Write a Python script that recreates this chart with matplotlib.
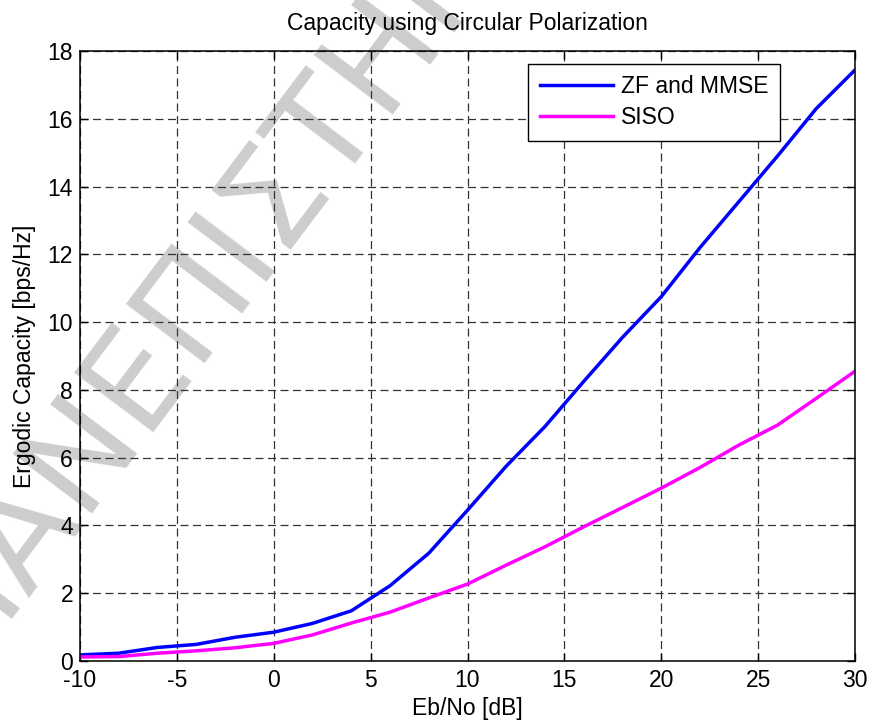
import numpy as np
import matplotlib.pyplot as plt

plt.rcParams['font.family'] = ['Liberation Sans', 'DejaVu Sans']
plt.rcParams['axes.unicode_minus'] = False

# Eb/No values [dB]
ebno_db = [-10, -8, -6, -4, -2, 0, 2, 4, 6, 8, 10, 12, 14, 16, 18, 20, 22, 24, 26, 28, 30]

# ergodic capacity [bps/Hz]
cap_zf_mmse = [0.18, 0.23, 0.40, 0.49, 0.70, 0.85, 1.11, 1.48, 2.22, 3.18, 4.45,
               5.75, 6.92, 8.25, 9.55, 10.75, 12.2, 13.55, 14.9, 16.3, 17.44]
cap_siso = [0.12, 0.13, 0.23, 0.30, 0.39, 0.52, 0.77, 1.12, 1.44, 1.86, 2.27,
            2.83, 3.37, 3.96, 4.53, 5.10, 5.71, 6.37, 6.96, 7.75, 8.55]

x_ticks = [-10, -5, 0, 5, 10, 15, 20, 25, 30]
y_ticks = [0, 2, 4, 6, 8, 10, 12, 14, 16, 18]

FS = 16.5

fig = plt.figure(figsize=(8.69, 7.21), dpi=100)
ax = fig.add_axes([80 / 869, 1 - 661 / 721, 775 / 869, 610 / 721])
ax.patch.set_alpha(0)

# watermark behind everything
fig.text(252 / 869, 1 - 222 / 721, "ΠΑΝΕΠΙΣΤΗΜΙΟ", fontsize=98, color='#cdcdcd',
         rotation=53, rotation_mode='anchor', ha='center', va='center',
         family='DejaVu Sans', zorder=-1)

ax.plot(ebno_db, cap_zf_mmse, color='#0000ff', lw=2.5, label='ZF and MMSE')
ax.plot(ebno_db, cap_siso, color='#ff00ff', lw=2.5, label='SISO')

ax.set_xlim(-10, 30)
ax.set_ylim(0, 18)
ax.set_xticks(x_ticks)
ax.set_yticks(y_ticks)
ax.grid(True, color='#333333', lw=0.9, linestyle=(0, (6.4, 3.6)))
ax.tick_params(direction='in', top=True, right=True, length=6, width=1,
               labelsize=FS)
ax.tick_params(axis='x', pad=6)
ax.tick_params(axis='y', pad=5)
for s in ax.spines.values():
    s.set_linewidth(1.1)

ax.set_title("Capacity using Circular Polarization", fontsize=FS, pad=15)
ax.set_xlabel("Eb/No [dB]", fontsize=FS, labelpad=3)
ax.set_ylabel("Ergodic Capacity [bps/Hz]", fontsize=FS, labelpad=8)

leg = ax.legend(loc='upper right', bbox_to_anchor=((780 - 80) / 775, (661 - 64) / 610),
                fontsize=FS, fancybox=False, framealpha=1, edgecolor='black',
                handlelength=3.2, handletextpad=0.35, labelspacing=0.35,
                borderpad=0.5, borderaxespad=0)
leg.get_frame().set_linewidth(1.0)

fig.savefig("out.png", dpi=100)
